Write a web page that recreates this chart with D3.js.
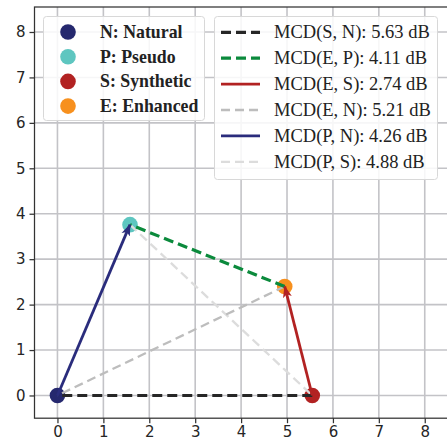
<!DOCTYPE html>
<html>
<head>
<meta charset="utf-8">
<script src="https://cdn.jsdelivr.net/npm/d3@7"></script>
<style>
  body { margin: 0; background: #fff; }
  .tick text { font-family: "DejaVu Sans", sans-serif; font-size: 15px; fill: #262626; }
</style>
</head>
<body>
<div id="chart"></div>
<script>
// points
const pointKeys = ["N", "P", "S", "E"];
const pointLabels = ["N: Natural", "P: Pseudo", "S: Synthetic", "E: Enhanced"];
const pointX = [0, 1.58, 5.55, 4.95];
const pointY = [0, 3.76, 0, 2.40];
const pointColors = ["#25286e", "#5ec6c0", "#b22222", "#f7901e"];

// distance lines
const lineFrom = ["S", "E", "E", "E", "P", "P"];
const lineTo = ["N", "P", "S", "N", "N", "S"];
const lineLabels = ["MCD(S, N): 5.63 dB", "MCD(E, P): 4.11 dB", "MCD(E, S): 2.74 dB",
                    "MCD(E, N): 5.21 dB", "MCD(P, N): 4.26 dB", "MCD(P, S): 4.88 dB"];
const lineColors = ["#262626", "#0b8a3c", "#b22222", "#bdbdbd", "#2a2c7c", "#dcdcdc"];

const xTicks = [0, 1, 2, 3, 4, 5, 6, 7, 8];
const yTicks = [0, 1, 2, 3, 4, 5, 6, 7, 8];

const W = 447, H = 441;
const margin = {top: 7, right: 0, bottom: 23, left: 34.5};

const svg = d3.select("#chart").append("svg")
    .attr("width", W)
    .attr("height", H);

const x = d3.scaleLinear().domain([-0.5, 8.55]).range([margin.left, 450]);
const y = d3.scaleLinear().domain([-0.5, 8.55]).range([H - margin.bottom + 0.2, margin.top]);

// grid
svg.append("g")
    .selectAll("line")
    .data(xTicks)
    .enter().append("line")
    .attr("x1", d => x(d)).attr("x2", d => x(d))
    .attr("y1", y.range()[0]).attr("y2", y.range()[1])
    .attr("stroke", "#c3c3c7").attr("stroke-width", 1.6);

svg.append("g")
    .selectAll("line")
    .data(yTicks)
    .enter().append("line")
    .attr("y1", d => y(d)).attr("y2", d => y(d))
    .attr("x1", x.range()[0]).attr("x2", x.range()[1])
    .attr("stroke", "#c3c3c7").attr("stroke-width", 1.6);

// axes
const xAxis = svg.append("g")
    .attr("transform", `translate(0,${y.range()[0]})`)
    .call(d3.axisBottom(x).tickValues(xTicks).tickSize(5).tickPadding(3).tickFormat(d3.format("d")));
const yAxis = svg.append("g")
    .attr("transform", `translate(${x.range()[0]},0)`)
    .call(d3.axisLeft(y).tickValues(yTicks).tickSize(5).tickPadding(4).tickFormat(d3.format("d")));
[xAxis, yAxis].forEach(a => {
    a.select(".domain").remove();
    a.selectAll(".tick line").attr("stroke", "#333").attr("stroke-width", 1.25);
});

// spines
svg.append("rect")
    .attr("x", x.range()[0]).attr("y", y.range()[1])
    .attr("width", x.range()[1] - x.range()[0])
    .attr("height", y.range()[0] - y.range()[1])
    .attr("fill", "none").attr("stroke", "#333").attr("stroke-width", 1.25);

// points
const idx = k => pointKeys.indexOf(k);
svg.append("g").selectAll("circle")
    .data(pointKeys)
    .enter().append("circle")
    .attr("cx", (d, i) => x(pointX[i]))
    .attr("cy", (d, i) => y(pointY[i]))
    .attr("r", 7.8)
    .attr("fill", (d, i) => pointColors[i]);

// line styles
const widths = [3.2, 3.2, 2.8, 2.3, 2.8, 2.3];
const dashes = ["10,5", "10,5", null, "9,5", null, "9,5"];
const isArrow = [false, false, true, false, true, false];

const defs = svg.append("defs");
lineColors.forEach((c, i) => {
    if (!isArrow[i]) return;
    defs.append("marker")
        .attr("id", "arrow" + i)
        .attr("viewBox", "0 0 12 10")
        .attr("refX", 11).attr("refY", 5)
        .attr("markerWidth", 12).attr("markerHeight", 10)
        .attr("markerUnits", "userSpaceOnUse")
        .attr("orient", "auto")
        .append("path")
        .attr("d", "M0,0.5 L12,5 L0,9.5 L3,5 Z")
        .attr("fill", c);
});

// draw lines in back-to-front order
const drawOrder = [5, 3, 0, 1, 2, 4];
const linesG = svg.append("g");
drawOrder.forEach(i => {
    const a = idx(lineFrom[i]), b = idx(lineTo[i]);
    // arrows go from the second point to the first
    const x1 = isArrow[i] ? pointX[b] : pointX[a];
    const y1 = isArrow[i] ? pointY[b] : pointY[a];
    const x2 = isArrow[i] ? pointX[a] : pointX[b];
    const y2 = isArrow[i] ? pointY[a] : pointY[b];
    linesG.append("line")
        .attr("x1", x(x1)).attr("y1", y(y1))
        .attr("x2", x(x2)).attr("y2", y(y2))
        .attr("stroke", lineColors[i])
        .attr("stroke-width", widths[i])
        .attr("stroke-dasharray", dashes[i])
        .attr("marker-end", isArrow[i] ? `url(#arrow${i})` : null);
});

// legend 1 (points)
const leg1 = svg.append("g");
leg1.append("rect")
    .attr("x", 43.5).attr("y", 16.5).attr("width", 161).attr("height", 104)
    .attr("rx", 3).attr("fill", "rgba(255,255,255,0.85)")
    .attr("stroke", "#d8d8d8").attr("stroke-width", 1);
pointLabels.forEach((t, i) => {
    const cy = 32 + i * 24.7;
    leg1.append("circle").attr("cx", 68).attr("cy", cy).attr("r", 7.8).attr("fill", pointColors[i]);
    leg1.append("text").attr("x", 100).attr("y", cy + 6)
        .attr("font-family", "Liberation Serif, serif").attr("font-weight", "bold")
        .attr("font-size", 17.8).attr("fill", "#222").text(t);
});

// legend 2 (lines)
const leg2 = svg.append("g");
leg2.append("rect")
    .attr("x", 214.5).attr("y", 16.5).attr("width", 223).attr("height", 163)
    .attr("rx", 3).attr("fill", "rgba(255,255,255,0.85)")
    .attr("stroke", "#d8d8d8").attr("stroke-width", 1);
lineLabels.forEach((t, i) => {
    const cy = 32.3 + i * 25.9;
    leg2.append("line").attr("x1", 221).attr("x2", 260).attr("y1", cy).attr("y2", cy)
        .attr("stroke", lineColors[i]).attr("stroke-width", widths[i])
        .attr("stroke-dasharray", dashes[i]);
    leg2.append("text").attr("x", 274).attr("y", cy + 6)
        .attr("font-family", "Liberation Serif, serif")
        .attr("font-size", 18.5).attr("fill", "#222").text(t);
});
</script>
</body>
</html>
